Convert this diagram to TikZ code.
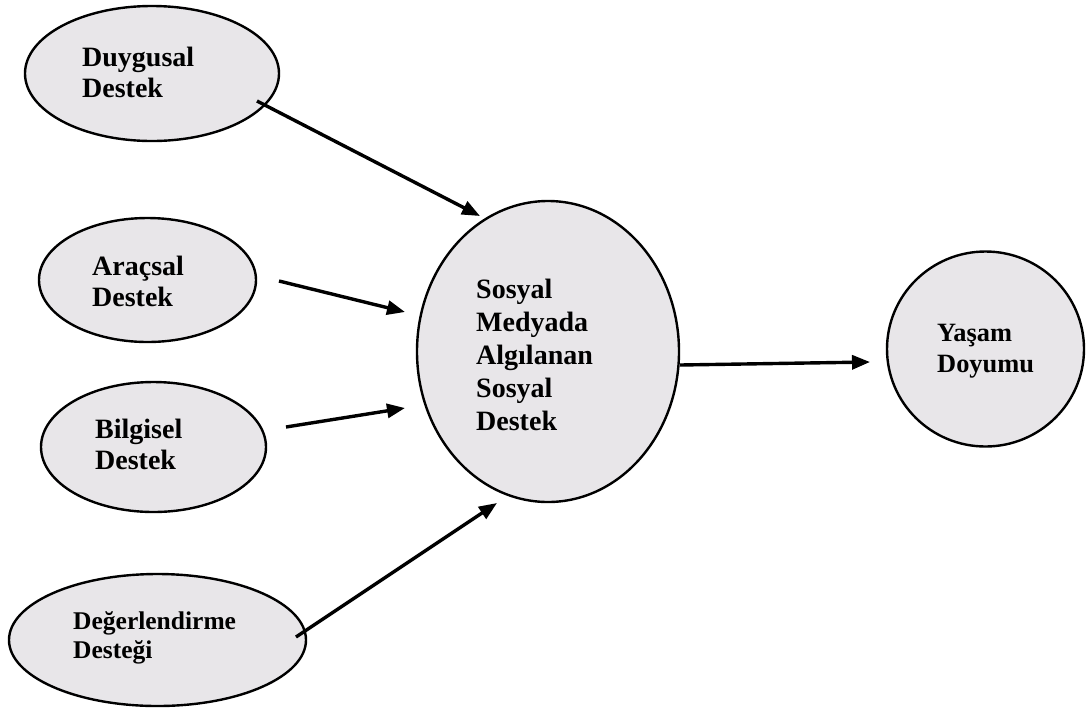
\documentclass[tikz,border=0pt]{standalone}
\usepackage{fontspec}
\setmainfont{Liberation Serif}
\usetikzlibrary{arrows.meta,shapes.geometric}
\definecolor{bubble}{RGB}{232,230,233}
\tikzset{
  bub/.style={ellipse, draw=black, line width=2.4pt, fill=bubble, inner sep=0pt},
  lbl/.style={anchor=west, align=left, inner sep=0pt, font=\fontsize{28}{31}\selectfont\bfseries},
  arr/.style={line width=3.4pt, -{Triangle[length=18pt,width=14pt]}}
}
\begin{document}
\begin{tikzpicture}[x=1pt,y=-1pt]
\useasboundingbox (0,0) rectangle (1086,716);
% ellipses
\node[bub, minimum width=254pt, minimum height=135pt] (duy) at (152,73.5) {};
\node[bub, minimum width=217pt, minimum height=124pt] (arac) at (147.5,280) {};
\node[bub, minimum width=225pt, minimum height=130pt] (bilg) at (153.5,447) {};
\node[bub, minimum width=297pt, minimum height=132pt] (deg) at (157.5,640) {};
\node[bub, minimum width=262pt, minimum height=301pt] (sos) at (548,351.5) {};
\node[bub, minimum width=197pt, minimum height=195pt] (yas) at (985.5,349) {};
% labels
\node[lbl] (tduy) at (82,72) {Duygusal\\Destek};
\node[lbl] (tarac) at (92,281) {Araçsal\\Destek};
\node[lbl] (tbilg) at (95,444) {Bilgisel\\Destek};
\node[lbl, font=\fontsize{25.5}{29}\selectfont\bfseries] (tdeg) at (73,638) {Değerlendirme\\Desteği};
\node[lbl, font=\fontsize{28}{33}\selectfont\bfseries] (tsos) at (476,355) {Sosyal\\Medyada\\Algılanan\\Sosyal\\Destek};
\node[lbl, font=\fontsize{26.4}{31}\selectfont\bfseries] (tyas) at (937,351) {Yaşam\\Doyumu};
% arrow end points
\coordinate (a1s) at (257,101); \coordinate (a1e) at (480,216);
\coordinate (a2s) at (279,281); \coordinate (a2e) at (405,312);
\coordinate (a3s) at (286,427); \coordinate (a3e) at (405,408);
\coordinate (a4s) at (296,637); \coordinate (a4e) at (497,503);
\coordinate (a5s) at (680,365); \coordinate (a5e) at (870,362);
\draw[arr] (a1s) -- (a1e);
\draw[arr] (a2s) -- (a2e);
\draw[arr] (a3s) -- (a3e);
\draw[arr] (a4s) -- (a4e);
\draw[arr] (a5s) -- (a5e);
\end{tikzpicture}
\end{document}
